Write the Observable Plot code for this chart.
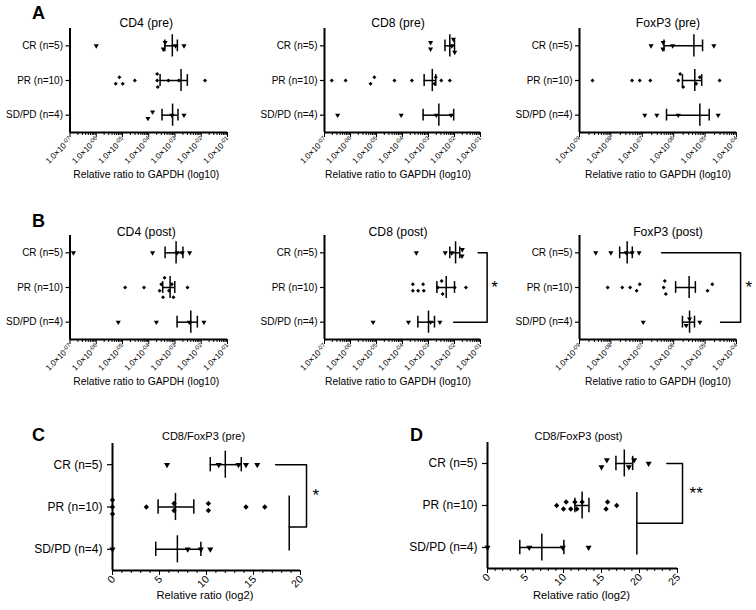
<!DOCTYPE html>
<html><head><meta charset="utf-8">
<script src="https://cdn.jsdelivr.net/npm/d3@7"></script>
<script src="https://cdn.jsdelivr.net/npm/@observablehq/plot@0.6"></script>
<style>
body{margin:0;background:#fff;}
#fig{position:relative;width:756px;height:610px;background:#fff;font-family:"Liberation Sans",Arial,Helvetica,sans-serif;color:#000;overflow:hidden;}
.panel{position:absolute;}
.letter{position:absolute;font-weight:bold;font-size:18px;line-height:18px;}
</style></head><body><div id="fig"></div>
<script>
// ---------- categories ----------
const groups = ["CR (n=5)", "PR (n=10)", "SD/PD (n=4)"];
const rowOf = [2, 1, 0]; // CR top, SD/PD bottom

// ---------- tick values ----------
const gapdhTicks = [1e-7, 1e-6, 1e-5, 1e-4, 1e-3, 1e-2, 1e-1];
const foxp3Ticks = [1e-9, 1e-8, 1e-7, 1e-6, 1e-5, 1e-4];
const log2TicksC = [0, 5, 10, 15, 20];
const log2TicksD = [0, 5, 10, 15, 20, 25];

// ---------- A: CD4 (pre) ----------
const cd4PreCR = [1.0e-6, 3.6e-4, 4.2e-4, 1.05e-3, 2.2e-3];
const cd4PrePR = [5.5e-6, 7.6e-6, 1.02e-5, 2.95e-5, 2.1e-4, 2.1e-4, 2.2e-4, 5.6e-4, 1.4e-3, 1.4e-2];
const cd4PreSD = [9.3e-5, 1.4e-4, 7.6e-4, 2.2e-3];
const cd4PreMean = [7.9e-4, 1.7e-3, 8.1e-4];
const cd4PreLo = [4.1e-4, 2.7e-4, 3.2e-4];
const cd4PreHi = [1.23e-3, 2.95e-3, 1.3e-3];

// ---------- A: CD8 (pre) ----------
const cd8PreCR = [1.2e-3, 1.2e-3, 7.9e-3, 1.02e-2, 9.1e-3];
const cd8PrePR = [1.9e-7, 6.5e-7, 5.9e-6, 8.3e-6, 4.9e-5, 2.3e-4, 1.7e-3, 1.9e-3, 3.1e-3, 6.6e-3];
const cd8PreSD = [3.2e-7, 8.9e-5, 2.0e-3, 7.4e-3];
const cd8PreMean = [6.6e-3, 1.4e-3, 2.5e-3];
const cd8PreLo = [4.3e-3, 6.8e-4, 6.2e-4];
const cd8PreHi = [1.0e-2, 1.9e-3, 9.3e-3];

// ---------- A: FoxP3 (pre) ----------
const foxPreCR = [1.9e-7, 4.5e-7, 4.6e-7, 9.3e-7, 1.9e-5];
const foxPrePR = [2.6e-9, 4.7e-8, 8.3e-8, 1.8e-7, 1.4e-6, 1.6e-6, 2.0e-6, 5.2e-6, 6.8e-6, 2.9e-5];
const foxPreSD = [1.2e-7, 2.9e-7, 1.4e-6, 2.6e-5];
const foxPreMean = [4.4e-6, 4.7e-6, 6.8e-6];
const foxPreLo = [4.9e-7, 1.9e-6, 5.9e-7];
const foxPreHi = [8.3e-6, 7.8e-6, 1.35e-5];

// ---------- B: CD4 (post) ----------
const cd4PostCR = [1.35e-7, 1.4e-4, 1.2e-3, 1.9e-3, 3.6e-3];
const cd4PostPR = [1.26e-5, 6.6e-5, 2.6e-4, 3.0e-4, 3.5e-4, 4.0e-4, 5.9e-4, 7.6e-4, 8.7e-4, 3.0e-3];
const cd4PostSD = [6.9e-6, 1.95e-4, 3.5e-3, 1.26e-2];
const cd4PostMean = [1.1e-3, 6.5e-4, 4.0e-3];
const cd4PostLo = [4.2e-4, 3.4e-4, 1.2e-3];
const cd4PostHi = [2.0e-3, 9.8e-4, 7.1e-3];

// ---------- B: CD8 (post) ----------
const cd8PostCR = [3.4e-4, 4.4e-3, 7.9e-3, 1.95e-2, 2.0e-2];
const cd8PostPR = [2.5e-4, 2.5e-4, 4.0e-4, 6.2e-4, 6.6e-4, 2.3e-3, 3.2e-3, 3.5e-3, 1.02e-2, 2.75e-2];
const cd8PostSD = [7.4e-6, 1.7e-4, 1.2e-3, 2.75e-3];
const cd8PostMean = [1.1e-2, 4.8e-3, 1.0e-3];
const cd8PostLo = [6.6e-3, 2.1e-3, 3.9e-4];
const cd8PostHi = [1.6e-2, 1.0e-2, 1.7e-3];
const cd8PostBracket = [8.1e-2, 0.18, 9.3e-3]; // CR start, vertical, SD/PD start
const cd8PostSig = "*";

// ---------- B: FoxP3 (post) ----------
const foxPostCR = [3.3e-9, 1.0e-8, 3.1e-8, 4.8e-8, 7.9e-8];
const foxPostPR = [7.9e-9, 2.3e-8, 4.1e-8, 6.6e-8, 8.3e-8, 5.2e-7, 4.8e-7, 5.6e-7, 1.2e-5, 1.7e-5];
const foxPostSD = [1.07e-7, 2.5e-6, 3.2e-6, 6.8e-6];
const foxPostMean = [3.3e-8, 3.1e-6, 3.2e-6];
const foxPostLo = [1.9e-8, 1.15e-6, 1.9e-6];
const foxPostHi = [4.8e-8, 4.9e-6, 4.6e-6];
const foxPostBracket = [4.1e-7, 1.35e-4, 3.1e-5];
const foxPostSig = "*";

// ---------- C: CD8/FoxP3 (pre), log2 ----------
const ratioPreCR = [5.8, 11.3, 13.4, 14.2, 15.4];
const ratioPrePR = [0, 0, 0, 3.6, 6.55, 6.55, 10.2, 10.2, 14.2, 16.2];
const ratioPreSD = [0, 8.0, 9.4, 10.4];
const ratioPreMean = [12.0, 6.7, 6.9];
const ratioPreLo = [10.4, 4.85, 4.6];
const ratioPreHi = [13.7, 8.65, 9.4];
const ratioPreBracket = [17.35, 20.64, 18.8]; // CR start, vertical, PR+SD/PD rule
const ratioPreSig = "*";

// ---------- D: CD8/FoxP3 (post), log2 ----------
const ratioPostCR = [15.0, 15.7, 18.6, 19.3, 21.2];
const ratioPostPR = [9.1, 10.0, 10.35, 10.95, 11.5, 11.75, 12.45, 15.6, 15.8, 17.0];
const ratioPostSD = [0, 5.5, 9.9, 13.3];
const ratioPostMean = [18.0, 12.45, 7.15];
const ratioPostLo = [16.9, 11.5, 4.25];
const ratioPostHi = [19.1, 13.35, 10.05];
const ratioPostBracket = [23.6, 25.66, 19.65];
const ratioPostSig = "**";

// ---------- helpers ----------
const FONT = '"Liberation Sans", Arial, Helvetica, sans-serif';
function sciLabel(v) {
  const e = Math.round(Math.log10(v));
  const s = (e < 0 ? "-" : "") + String(Math.abs(e)).padStart(2, "0");
  return "1.0\u00D710^" + s;
}
function logMinor(ticks) {
  const out = [];
  for (let i = 0; i < ticks.length - 1; i++) for (let k = 2; k <= 9; k++) out.push(k * ticks[i]);
  return out;
}
function linMinor(ticks) {
  const out = [];
  for (let v = ticks[0]; v <= ticks[ticks.length - 1]; v++) out.push(v);
  return out;
}
const triangleDown = {
  draw(context, size) {
    const y = -Math.sqrt(size / (Math.sqrt(3) * 3));
    context.moveTo(0, -y * 2);
    context.lineTo(-Math.sqrt(3) * y, y);
    context.lineTo(Math.sqrt(3) * y, y);
    context.closePath();
  }
};
function swarm(vals, xs, step, minDist) {
  const order = vals.map((_, i) => i).sort((a, b) => xs(vals[a]) - xs(vals[b]));
  const offs = new Array(vals.length).fill(0);
  const placed = [];
  const cands = [0];
  for (let k = 1; k <= 6; k++) cands.push(-k * step, k * step);
  for (const i of order) {
    const x = xs(vals[i]);
    for (const o of cands) {
      if (placed.every(p => Math.hypot(p.x - x, p.o - o) >= minDist)) { offs[i] = o; placed.push({x, o}); break; }
    }
  }
  let cluster = [], lastX = -Infinity;
  const flush = () => {
    if (cluster.length > 1) {
      const os = cluster.map(i => offs[i]);
      const c = (Math.max(...os) + Math.min(...os)) / 2;
      cluster.forEach(i => offs[i] -= c);
    }
    cluster = [];
  };
  for (const i of order) {
    const x = xs(vals[i]);
    if (x - lastX >= minDist) flush();
    cluster.push(i); lastX = x;
  }
  flush();
  return offs;
}

const SMALL = {cat: 10, catTick: 4, catPad: 3, title: 12.2, xlab: 10.3, tick: 8.2, tickDy: 6, step: 6.5, minDist: 5, rTri: 1.9, rDia: 1.8};
const LARGE = {cat: 12, catTick: 5, catPad: 5, title: 11, xlab: 11.2, tick: 10.5, tickDy: 7, step: 7, minDist: 6, rTri: 2.25, rDia: 2.4};

function panel(c) {
  const s = c.size;
  const fh = c.height - c.mT - c.mB;
  const pxUnit = fh / 3;
  const isLog = c.type === "log";
  const xs = (isLog ? d3.scaleLog() : d3.scaleLinear()).domain(c.domain).range([c.mL, c.width - c.mR]);
  const pts = [];
  c.series.forEach((vals, gi) => {
    const offs = swarm(vals, xs, s.step, s.minDist);
    vals.forEach((v, i) => pts.push({v, y: rowOf[gi] - offs[i] / pxUnit, diamond: gi === 1}));
  });
  const stats = groups.map((name, gi) => ({g: rowOf[gi], mean: c.mean[gi], lo: c.lo[gi], hi: c.hi[gi]}));
  const marks = [
    Plot.ruleX(stats, {x: "mean", y1: d => d.g - 0.32, y2: d => d.g + 0.32, stroke: "black", strokeWidth: 1.5}),
    Plot.ruleY(stats, {y: "g", x1: "lo", x2: "hi", stroke: "black", strokeWidth: 1.5}),
    Plot.ruleX(stats, {x: "lo", y1: d => d.g - 0.17, y2: d => d.g + 0.17, stroke: "black", strokeWidth: 1.5}),
    Plot.ruleX(stats, {x: "hi", y1: d => d.g - 0.17, y2: d => d.g + 0.17, stroke: "black", strokeWidth: 1.5}),
    Plot.dot(pts.filter(d => !d.diamond), {x: "v", y: "y", symbol: triangleDown, r: s.rTri, fill: "black", stroke: "none"}),
    Plot.dot(pts.filter(d => d.diamond), {x: "v", y: "y", symbol: "diamond2", r: s.rDia, fill: "black", stroke: "none"}),
    Plot.ruleX([c.domain[0]], {stroke: "black", strokeWidth: 2}),
    Plot.ruleY([-0.5], {stroke: "black", strokeWidth: 2}),
    Plot.axisY({ticks: [2, 1, 0], tickFormat: d => groups[2 - d], tickSize: s.catTick, tickPadding: s.catPad, fontSize: s.cat, strokeWidth: 1.2, label: null}),
    Plot.axisX({ticks: c.minor, tickFormat: () => "", tickSize: 3, strokeWidth: 1, label: null}),
    Plot.axisX({ticks: c.ticks, tickFormat: () => "", tickSize: 5, strokeWidth: 1, label: null}),
    Plot.text(c.ticks, {x: d => d, text: isLog ? sciLabel : d => String(d), frameAnchor: "bottom", dy: s.tickDy, dx: 1,
      rotate: -45, textAnchor: "end", lineAnchor: "middle", fontSize: s.tick}),
    Plot.text([c.title], {frameAnchor: "top", dy: c.titleDy, dx: c.titleDx, fontSize: s.title}),
    Plot.text([c.xLabel], {frameAnchor: "bottom", dy: c.xLabelDy, dx: c.xLabelDx, fontSize: s.xlab})
  ];
  if (c.bracket) {
    const b = c.bracket;
    if (c.bracketKind === "pair") {
      marks.push(Plot.line([{x: b[0], y: 2}, {x: b[1], y: 2}, {x: b[1], y: 0}, {x: b[2], y: 0}],
        {x: "x", y: "y", stroke: "black", strokeWidth: 1.5}));
      marks.push(Plot.text([{x: b[1], y: 1, t: c.sig}], {x: "x", y: "y", text: "t", dx: c.sigDx, textAnchor: "start", fontSize: 17}));
    } else {
      const join = c.join;
      marks.push(Plot.line([{x: b[0], y: 2}, {x: b[1], y: 2}, {x: b[1], y: join}, {x: b[2], y: join}],
        {x: "x", y: "y", stroke: "black", strokeWidth: 1.5}));
      marks.push(Plot.ruleX([b[2]], {y1: c.span[1], y2: c.span[0], stroke: "black", strokeWidth: 1.5}));
      marks.push(Plot.text([{x: b[1], y: (2 + join) / 2, t: c.sig}], {x: "x", y: "y", text: "t", dx: c.sigDx, textAnchor: "start", fontSize: 17}));
    }
  }
  const svg = Plot.plot({
    width: c.width, height: c.height,
    marginLeft: c.mL, marginRight: c.mR, marginTop: c.mT, marginBottom: c.mB,
    x: {type: isLog ? "log" : "linear", domain: c.domain, axis: null},
    y: {domain: [-0.5, 2.5], axis: null},
    style: {fontFamily: FONT, background: "transparent", color: "black", overflow: "visible"},
    marks
  });
  // turn "1.0×10^-07" into a real superscript
  svg.querySelectorAll("text").forEach(t => {
    const str = t.textContent;
    if (!str.includes("^")) return;
    const [base, exp] = str.split("^");
    t.textContent = "";
    const ns = "http://www.w3.org/2000/svg";
    const a = document.createElementNS(ns, "tspan"); a.textContent = base;
    const b = document.createElementNS(ns, "tspan"); b.textContent = exp;
    b.setAttribute("dy", "-0.45em"); b.setAttribute("font-size", "0.72em");
    t.appendChild(a); t.appendChild(b);
  });
  const wrap = document.createElement("div");
  wrap.className = "panel";
  wrap.style.left = c.left + "px";
  wrap.style.top = c.top + "px";
  wrap.appendChild(svg);
  document.getElementById("fig").appendChild(wrap);
}

const GAPDH_LABEL = "Relative ratio to GAPDH (log10)";
const LOG2_LABEL = "Relative ratio (log2)";
const rows = [{top: 0, titleDy: -10.5}, {top: 207, titleDy: -8.5}];
const cols = [
  {left: 0, width: 250, mL: 69.5, mR: 23, domain: [1e-7, 1e-1], ticks: gapdhTicks, dx: -2.5},
  {left: 250, width: 250, mL: 74, mR: 20, domain: [1e-7, 1e-1], ticks: gapdhTicks, dx: -4.5},
  {left: 500, width: 256, mL: 79, mR: 20, domain: [1e-9, 1e-4], ticks: foxp3Ticks, dx: 10}
];
const logPanels = [
  {r: 0, k: 0, title: "CD4 (pre)", series: [cd4PreCR, cd4PrePR, cd4PreSD], mean: cd4PreMean, lo: cd4PreLo, hi: cd4PreHi},
  {r: 0, k: 1, title: "CD8 (pre)", series: [cd8PreCR, cd8PrePR, cd8PreSD], mean: cd8PreMean, lo: cd8PreLo, hi: cd8PreHi},
  {r: 0, k: 2, title: "FoxP3 (pre)", series: [foxPreCR, foxPrePR, foxPreSD], mean: foxPreMean, lo: foxPreLo, hi: foxPreHi},
  {r: 1, k: 0, title: "CD4 (post)", series: [cd4PostCR, cd4PostPR, cd4PostSD], mean: cd4PostMean, lo: cd4PostLo, hi: cd4PostHi},
  {r: 1, k: 1, title: "CD8 (post)", series: [cd8PostCR, cd8PostPR, cd8PostSD], mean: cd8PostMean, lo: cd8PostLo, hi: cd8PostHi,
    bracket: cd8PostBracket, bracketKind: "pair", sig: cd8PostSig, sigDx: 4},
  {r: 1, k: 2, title: "FoxP3 (post)", series: [foxPostCR, foxPostPR, foxPostSD], mean: foxPostMean, lo: foxPostLo, hi: foxPostHi,
    bracket: foxPostBracket, bracketKind: "pair", sig: foxPostSig, sigDx: 5}
];
for (const p of logPanels) {
  const row = rows[p.r], col = cols[p.k];
  panel({
    left: col.left, top: row.top, width: col.width, height: 190,
    mL: col.mL, mR: col.mR, mT: 28, mB: 58,
    type: "log", domain: col.domain, ticks: col.ticks, minor: logMinor(col.ticks),
    title: p.title, titleDx: col.dx, titleDy: row.titleDy,
    xLabel: GAPDH_LABEL, xLabelDx: p.k === 2 ? 0 : col.dx, xLabelDy: 45,
    series: p.series, mean: p.mean, lo: p.lo, hi: p.hi,
    bracket: p.bracket, bracketKind: p.bracketKind, sig: p.sig, sigDx: p.sigDx,
    size: SMALL
  });
}

panel({
  left: 0, top: 400, width: 378, height: 210, mL: 112, mR: 78, mT: 43, mB: 40,
  type: "linear", domain: [0, 20], ticks: log2TicksC, minor: linMinor(log2TicksC),
  title: "CD8/FoxP3 (pre)", titleDx: -3, titleDy: -11,
  xLabel: LOG2_LABEL, xLabelDx: -1.5, xLabelDy: 28,
  series: [ratioPreCR, ratioPrePR, ratioPreSD], mean: ratioPreMean, lo: ratioPreLo, hi: ratioPreHi,
  bracket: ratioPreBracket, bracketKind: "split", join: (rowOf[1] + rowOf[2]) / 2 + 0.03,
  span: [rowOf[1] + 0.26, rowOf[2] - 0.04], sig: ratioPreSig, sigDx: 6,
  size: LARGE
});
panel({
  left: 378, top: 400, width: 378, height: 210, mL: 109, mR: 79, mT: 42, mB: 42,
  type: "linear", domain: [0, 25], ticks: log2TicksD, minor: linMinor(log2TicksD),
  title: "CD8/FoxP3 (post)", titleDx: -4, titleDy: -10.5,
  xLabel: LOG2_LABEL, xLabelDx: -1, xLabelDy: 30,
  series: [ratioPostCR, ratioPostPR, ratioPostSD], mean: ratioPostMean, lo: ratioPostLo, hi: ratioPostHi,
  bracket: ratioPostBracket, bracketKind: "split", join: (rowOf[1] + rowOf[2]) / 2 + 0.075,
  span: [rowOf[1] + 0.31, rowOf[2] - 0.18], sig: ratioPostSig, sigDx: 7,
  size: LARGE
});

// panel letters
const letters = [["A", 32, 4], ["B", 32, 212], ["C", 32, 426], ["D", 410, 426]];
for (const [t, x, y] of letters) {
  const d = document.createElement("div");
  d.className = "letter";
  d.textContent = t;
  d.style.left = x + "px";
  d.style.top = y + "px";
  document.getElementById("fig").appendChild(d);
}
</script>
</body></html>
